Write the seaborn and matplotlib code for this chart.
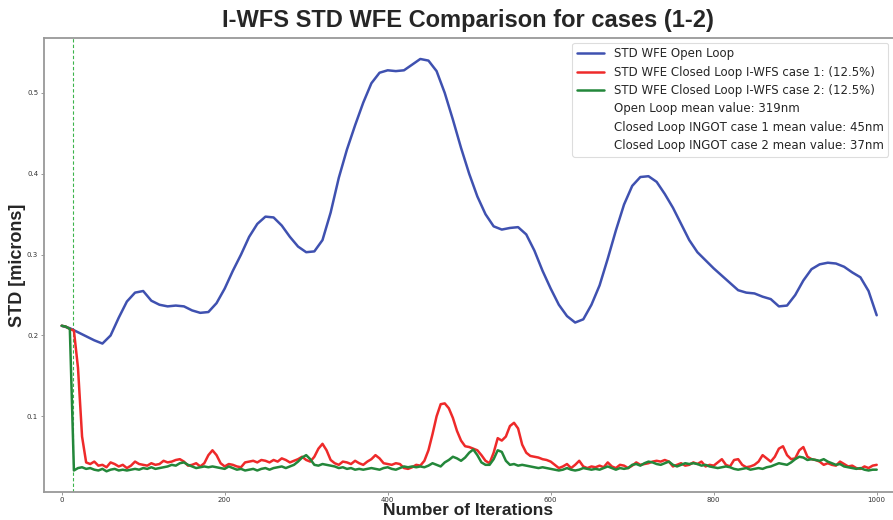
import numpy as np
import pandas as pd
import seaborn as sns
import matplotlib.pyplot as plt

# ======= data =======
iters_ol = np.arange(0, 1001, 10)
std_open_loop = [
    0.212, 0.209, 0.204, 0.199, 0.194, 0.190, 0.200, 0.222, 0.242, 0.253,
    0.255, 0.243, 0.238, 0.236, 0.237, 0.236, 0.231, 0.228, 0.229, 0.240,
    0.258, 0.280, 0.300, 0.322, 0.338, 0.347, 0.346, 0.336, 0.322, 0.310,
    0.303, 0.304, 0.318, 0.352, 0.395, 0.430, 0.460, 0.488, 0.512, 0.525,
    0.528, 0.527, 0.528, 0.535, 0.542, 0.540, 0.527, 0.500, 0.467, 0.432,
    0.400, 0.372, 0.350, 0.335, 0.331, 0.333, 0.334, 0.325, 0.305, 0.280,
    0.258, 0.238, 0.224, 0.216, 0.220, 0.238, 0.262, 0.295, 0.330, 0.362,
    0.385, 0.396, 0.397, 0.390, 0.375, 0.358, 0.338, 0.318, 0.303, 0.293,
    0.283, 0.274, 0.265, 0.256, 0.253, 0.252, 0.248, 0.245, 0.236, 0.237,
    0.250, 0.268, 0.282, 0.288, 0.290, 0.289, 0.285, 0.278, 0.272, 0.255,
    0.225,
]

iters_cl = np.arange(0, 1001, 5)
std_case1 = [
    0.212, 0.211, 0.208, 0.206, 0.160, 0.075, 0.043, 0.041, 0.044, 0.039, 0.040, 0.037, 0.043, 0.041, 0.038, 0.040, 0.036, 0.039, 0.044, 0.041,
    0.040, 0.039, 0.042, 0.040, 0.041, 0.045, 0.043, 0.044, 0.046, 0.047, 0.044, 0.039, 0.040, 0.042, 0.038, 0.042, 0.052, 0.058, 0.052, 0.042,
    0.038, 0.041, 0.040, 0.038, 0.037, 0.043, 0.044, 0.045, 0.043, 0.046, 0.045, 0.043, 0.046, 0.044, 0.048, 0.046, 0.043, 0.045, 0.047, 0.050,
    0.046, 0.044, 0.050, 0.060, 0.066, 0.058, 0.046, 0.042, 0.040, 0.044, 0.043, 0.041, 0.045, 0.042, 0.040, 0.044, 0.047, 0.052, 0.048, 0.042,
    0.041, 0.040, 0.042, 0.041, 0.036, 0.035, 0.037, 0.040, 0.039, 0.045, 0.058, 0.078, 0.100, 0.115, 0.116, 0.110, 0.098, 0.082, 0.070, 0.063,
    0.062, 0.060, 0.058, 0.052, 0.045, 0.042, 0.055, 0.073, 0.070, 0.075, 0.088, 0.092, 0.085, 0.065, 0.055, 0.051, 0.050, 0.049, 0.047, 0.046,
    0.044, 0.040, 0.036, 0.038, 0.041, 0.036, 0.040, 0.045, 0.038, 0.036, 0.038, 0.037, 0.039, 0.037, 0.043, 0.038, 0.036, 0.040, 0.039, 0.036,
    0.039, 0.043, 0.040, 0.041, 0.042, 0.044, 0.045, 0.044, 0.046, 0.044, 0.038, 0.040, 0.042, 0.039, 0.040, 0.043, 0.041, 0.044, 0.038, 0.040,
    0.039, 0.043, 0.047, 0.040, 0.038, 0.046, 0.047, 0.040, 0.037, 0.038, 0.040, 0.044, 0.052, 0.048, 0.044, 0.050, 0.060, 0.063, 0.052, 0.047,
    0.048, 0.058, 0.062, 0.050, 0.047, 0.046, 0.044, 0.040, 0.042, 0.040, 0.039, 0.044, 0.041, 0.038, 0.039, 0.036, 0.035, 0.038, 0.036, 0.039,
    0.040,
]
std_case2 = [
    0.212, 0.211, 0.208, 0.033, 0.036, 0.037, 0.035, 0.036, 0.034, 0.033, 0.035, 0.032, 0.034, 0.035, 0.033, 0.034, 0.033, 0.034, 0.035, 0.034,
    0.036, 0.035, 0.037, 0.035, 0.036, 0.037, 0.038, 0.040, 0.039, 0.042, 0.043, 0.040, 0.038, 0.036, 0.037, 0.038, 0.037, 0.038, 0.037, 0.036,
    0.035, 0.038, 0.036, 0.034, 0.035, 0.033, 0.034, 0.035, 0.033, 0.035, 0.036, 0.034, 0.036, 0.037, 0.038, 0.036, 0.038, 0.040, 0.044, 0.049,
    0.052, 0.047, 0.040, 0.039, 0.041, 0.040, 0.039, 0.038, 0.036, 0.037, 0.035, 0.036, 0.034, 0.035, 0.034, 0.035, 0.036, 0.035, 0.034, 0.036,
    0.037, 0.035, 0.034, 0.036, 0.038, 0.037, 0.038, 0.037, 0.038, 0.037, 0.039, 0.042, 0.040, 0.038, 0.043, 0.046, 0.050, 0.048, 0.045, 0.049,
    0.055, 0.059, 0.052, 0.043, 0.040, 0.040, 0.047, 0.058, 0.056, 0.045, 0.040, 0.041, 0.039, 0.040, 0.039, 0.038, 0.037, 0.036, 0.037, 0.036,
    0.035, 0.034, 0.033, 0.034, 0.036, 0.034, 0.033, 0.034, 0.036, 0.035, 0.034, 0.035, 0.034, 0.036, 0.038, 0.036, 0.034, 0.036, 0.035, 0.036,
    0.040, 0.041, 0.039, 0.042, 0.044, 0.043, 0.041, 0.040, 0.042, 0.044, 0.040, 0.038, 0.040, 0.042, 0.041, 0.042, 0.041, 0.039, 0.040, 0.038,
    0.037, 0.036, 0.037, 0.038, 0.037, 0.035, 0.034, 0.035, 0.036, 0.034, 0.035, 0.036, 0.035, 0.037, 0.038, 0.040, 0.042, 0.041, 0.040, 0.043,
    0.047, 0.050, 0.049, 0.046, 0.047, 0.046, 0.045, 0.047, 0.044, 0.042, 0.040, 0.041, 0.038, 0.037, 0.036, 0.035, 0.036, 0.034, 0.033, 0.034,
    0.034,
]
loop_close_iter = 14

labels = [
    "STD WFE Open Loop",
    "STD WFE Closed Loop I-WFS case 1: (12.5%)",
    "STD WFE Closed Loop I-WFS case 2: (12.5%)",
]
mean_labels = [
    "Open Loop mean value: 319nm",
    "Closed Loop INGOT case 1 mean value: 45nm",
    "Closed Loop INGOT case 2 mean value: 37nm",
]
colors = ["#3f51b0", "#ee2a2a", "#23873a"]
# ==========================================

sns.set_theme(style="white")
plt.rcParams['font.family'] = ['DejaVu Sans']
bold_font = ['Liberation Sans Narrow', 'Liberation Sans', 'DejaVu Sans']

fig = plt.figure(figsize=(8.93, 5.2), dpi=100)
ax = fig.add_axes([0.049, 0.054, 0.951, 0.873])

sns.lineplot(x=iters_ol, y=std_open_loop, color=colors[0], linewidth=1.8, label=labels[0], ax=ax)
sns.lineplot(x=iters_cl, y=std_case1, color=colors[1], linewidth=1.8, label=labels[1], ax=ax)
sns.lineplot(x=iters_cl, y=std_case2, color=colors[2], linewidth=1.8, label=labels[2], ax=ax)
for lab in mean_labels:
    ax.plot([], [], ' ', label=lab)

# loop closing iteration
ax.axvline(loop_close_iter, color="#3cb44b", linestyle=(0, (3, 2)), linewidth=0.8, zorder=0.5)

ax.set_xlim(-22, 1020)
ax.set_ylim(0.0065, 0.568)
ax.set_xticks([0, 200, 400, 600, 800, 1000])
ax.set_yticks([0.1, 0.2, 0.3, 0.4, 0.5])
ax.tick_params(axis='both', labelsize=5, length=2.5, width=0.6, color="#888888",
               labelcolor="#333333", bottom=True, left=True, pad=1.5)
for sp in ax.spines.values():
    sp.set_color("#999999")
    sp.set_linewidth(1.3)
ax.spines['right'].set_visible(False)

ax.set_title("I-WFS STD WFE Comparison for cases (1-2)", family=bold_font,
             fontsize=17, fontweight="bold", pad=8)
ax.set_xlabel("Number of Iterations", family=bold_font, fontsize=12.5,
              fontweight="bold", labelpad=0)
ax.set_ylabel("STD [microns]", family=bold_font, fontsize=13,
              fontweight="bold", labelpad=0.5)

leg = ax.legend(loc="upper right", fontsize=8.5, frameon=True, framealpha=1,
                edgecolor="#dddddd", borderaxespad=0.4, handlelength=2.3,
                labelspacing=0.45)
leg.get_frame().set_linewidth(0.8)

fig.savefig("out.png", dpi=100)
